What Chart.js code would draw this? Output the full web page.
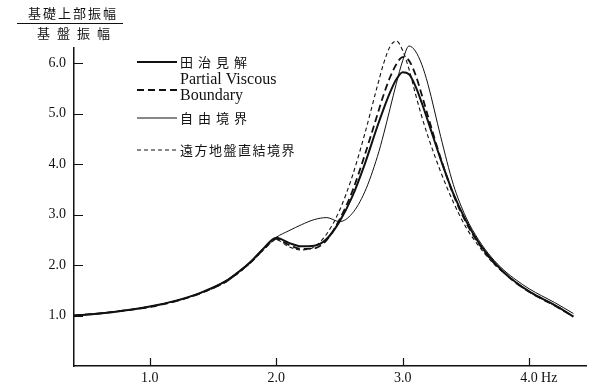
<!DOCTYPE html>
<html>
<head>
<meta charset="utf-8">
<script src="https://cdn.jsdelivr.net/npm/chart.js@4.4.1/dist/chart.umd.min.js"></script>
<style>
  html, body { margin: 0; padding: 0; background: #fff; }
  #wrap { width: 593px; height: 386px; }
</style>
</head>
<body>
<div id="wrap"><canvas id="chart"></canvas></div>
<script>
// frequency (Hz) shared by all curves
const freq = [0.4, 0.6, 0.8, 1.0, 1.2, 1.4, 1.6, 1.7, 1.8, 1.9, 2.0, 2.1, 2.2, 2.3, 2.4, 2.5, 2.6, 2.7, 2.8, 2.85, 2.9, 2.95, 3.0, 3.05, 3.1, 3.15, 3.2, 3.3, 3.4, 3.5, 3.6, 3.7, 3.8, 3.9, 4.0, 4.1, 4.2, 4.35];

// 田治見解 (thick solid)
const tajimi = [1.00, 1.04, 1.10, 1.18, 1.29, 1.45, 1.68, 1.86, 2.07, 2.33, 2.54, 2.44, 2.37, 2.38, 2.52, 2.86, 3.35, 4.00, 4.75, 5.10, 5.42, 5.68, 5.82, 5.78, 5.55, 5.22, 4.85, 4.10, 3.42, 2.88, 2.45, 2.12, 1.86, 1.65, 1.48, 1.34, 1.21, 0.98];
// Partial Viscous Boundary (long dash)
const partial = [1.00, 1.04, 1.10, 1.17, 1.28, 1.44, 1.67, 1.85, 2.06, 2.31, 2.52, 2.40, 2.32, 2.33, 2.50, 2.90, 3.45, 4.18, 4.98, 5.38, 5.72, 5.98, 6.12, 6.05, 5.78, 5.38, 4.95, 4.12, 3.40, 2.85, 2.43, 2.10, 1.85, 1.64, 1.47, 1.33, 1.20, 0.98];
// 自由境界 (thin solid)
const free = [1.00, 1.04, 1.10, 1.18, 1.29, 1.45, 1.69, 1.87, 2.08, 2.34, 2.55, 2.68, 2.80, 2.90, 2.94, 2.86, 3.02, 3.45, 4.15, 4.60, 5.10, 5.60, 6.05, 6.34, 6.24, 5.98, 5.58, 4.55, 3.60, 2.95, 2.50, 2.16, 1.90, 1.70, 1.53, 1.39, 1.26, 1.04];
// 遠方地盤直結境界 (short dash)
const farField = [1.00, 1.04, 1.10, 1.17, 1.28, 1.44, 1.66, 1.84, 2.05, 2.30, 2.50, 2.36, 2.30, 2.36, 2.62, 3.08, 3.75, 4.60, 5.55, 6.00, 6.33, 6.44, 6.25, 5.88, 5.40, 4.95, 4.55, 3.85, 3.25, 2.75, 2.38, 2.08, 1.84, 1.64, 1.47, 1.33, 1.20, 0.98];

const xTicks = [1, 2, 3, 4];
const yTicks = [1, 2, 3, 4, 5, 6];

const SERIF = "'Liberation Serif', 'DejaVu Serif', serif";
const CJK = "'Noto Sans CJK JP', sans-serif";

const toPoints = (vals) => freq.map((f, i) => ({ x: f, y: vals[i] }));

const series = [
  { label: "田治見解", data: tajimi, width: 2, dash: [] },
  { label: "Partial Viscous Boundary", data: partial, width: 1.8, dash: [7, 4] },
  { label: "自由境界", data: free, width: 1, dash: [] },
  { label: "遠方地盤直結境界", data: farField, width: 1.1, dash: [4, 3] }
];

// draw text with a gap between characters
function spaced(ctx, text, x, y, gap) {
  for (const ch of text) {
    ctx.fillText(ch, x, y);
    x += ctx.measureText(ch).width + gap;
  }
}

const decor = {
  id: "decor",
  afterDraw(chart) {
    const ctx = chart.ctx;
    const xs = chart.scales.x, ys = chart.scales.y;
    ctx.save();
    ctx.strokeStyle = "#111";
    ctx.fillStyle = "#111";
    ctx.lineWidth = 1.2;

    // inward tick marks
    ctx.beginPath();
    for (const v of yTicks) {
      const py = Math.round(ys.getPixelForValue(v)) + 0.5;
      ctx.moveTo(xs.left, py);
      ctx.lineTo(xs.left + 9, py);
    }
    for (const v of xTicks) {
      const px = Math.round(xs.getPixelForValue(v)) + 0.5;
      ctx.moveTo(px, ys.bottom);
      ctx.lineTo(px, ys.bottom - 8);
    }
    ctx.stroke();

    // Hz unit after last tick label
    ctx.font = "14px " + SERIF;
    ctx.textBaseline = "middle";
    ctx.textAlign = "left";
    ctx.fillText("Hz", xs.getPixelForValue(4) + 12, ys.bottom + 12);

    // y title as a fraction
    ctx.font = "13px " + CJK;
    spaced(ctx, "基礎上部振幅", 28, 13, 2);
    ctx.beginPath();
    ctx.lineWidth = 1;
    ctx.moveTo(17, 23.5);
    ctx.lineTo(123, 23.5);
    ctx.stroke();
    spaced(ctx, "基盤振幅", 37, 33, 7);

    // legend
    const lx0 = 137, lx1 = 177, tx = 180;
    const rows = [
      { y: 62, s: series[0] },
      { y: 90, s: series[1] },
      { y: 118, s: series[2] },
      { y: 150, s: series[3] }
    ];
    for (const r of rows) {
      ctx.beginPath();
      ctx.lineWidth = r.s.width;
      ctx.setLineDash(r.s.dash);
      ctx.moveTo(lx0, r.y);
      ctx.lineTo(lx1, r.y);
      ctx.stroke();
    }
    ctx.setLineDash([]);
    ctx.font = "13px " + CJK;
    spaced(ctx, "田治見解", tx, 62, 5);
    spaced(ctx, "自由境界", tx, 118, 5);
    spaced(ctx, "遠方地盤直結境界", tx, 150, 1.5);
    ctx.font = "16px " + SERIF;
    ctx.fillText("Partial Viscous", tx, 80);
    ctx.fillText("Boundary", tx, 96);
    ctx.restore();
  }
};

new Chart(document.getElementById("chart"), {
  type: "line",
  data: {
    datasets: series.map(s => ({
      label: s.label,
      data: toPoints(s.data),
      borderColor: "#111",
      borderWidth: s.width,
      borderDash: s.dash,
      pointRadius: 0,
      fill: false,
      cubicInterpolationMode: "monotone",
      clip: false
    }))
  },
  options: {
    responsive: true,
    maintainAspectRatio: false,
    animation: false,
    layout: { padding: { top: 48, right: 7, left: 0, bottom: 0 } },
    plugins: {
      legend: { display: false },
      tooltip: { enabled: false }
    },
    scales: {
      x: {
        type: "linear",
        min: 0.4,
        max: 4.45,
        afterBuildTicks: (scale) => { scale.ticks = xTicks.map(v => ({ value: v })); },
        afterFit: (scale) => { scale.height = 20; },
        grid: { display: false, drawTicks: false },
        border: { display: true, color: "#111", width: 1.5 },
        ticks: {
          color: "#111",
          padding: 4,
          maxRotation: 0,
          font: { family: SERIF, size: 14 },
          callback: (v) => v.toFixed(1)
        }
      },
      y: {
        min: 0,
        max: 6.3,
        afterBuildTicks: (scale) => { scale.ticks = yTicks.map(v => ({ value: v })); },
        afterFit: (scale) => { scale.width = 74; },
        grid: { display: false, drawTicks: false },
        border: { display: true, color: "#111", width: 1.5 },
        ticks: {
          color: "#111",
          padding: 8,
          font: { family: SERIF, size: 14 },
          callback: (v) => v.toFixed(1)
        }
      }
    }
  },
  plugins: [decor]
});
</script>
</body>
</html>
